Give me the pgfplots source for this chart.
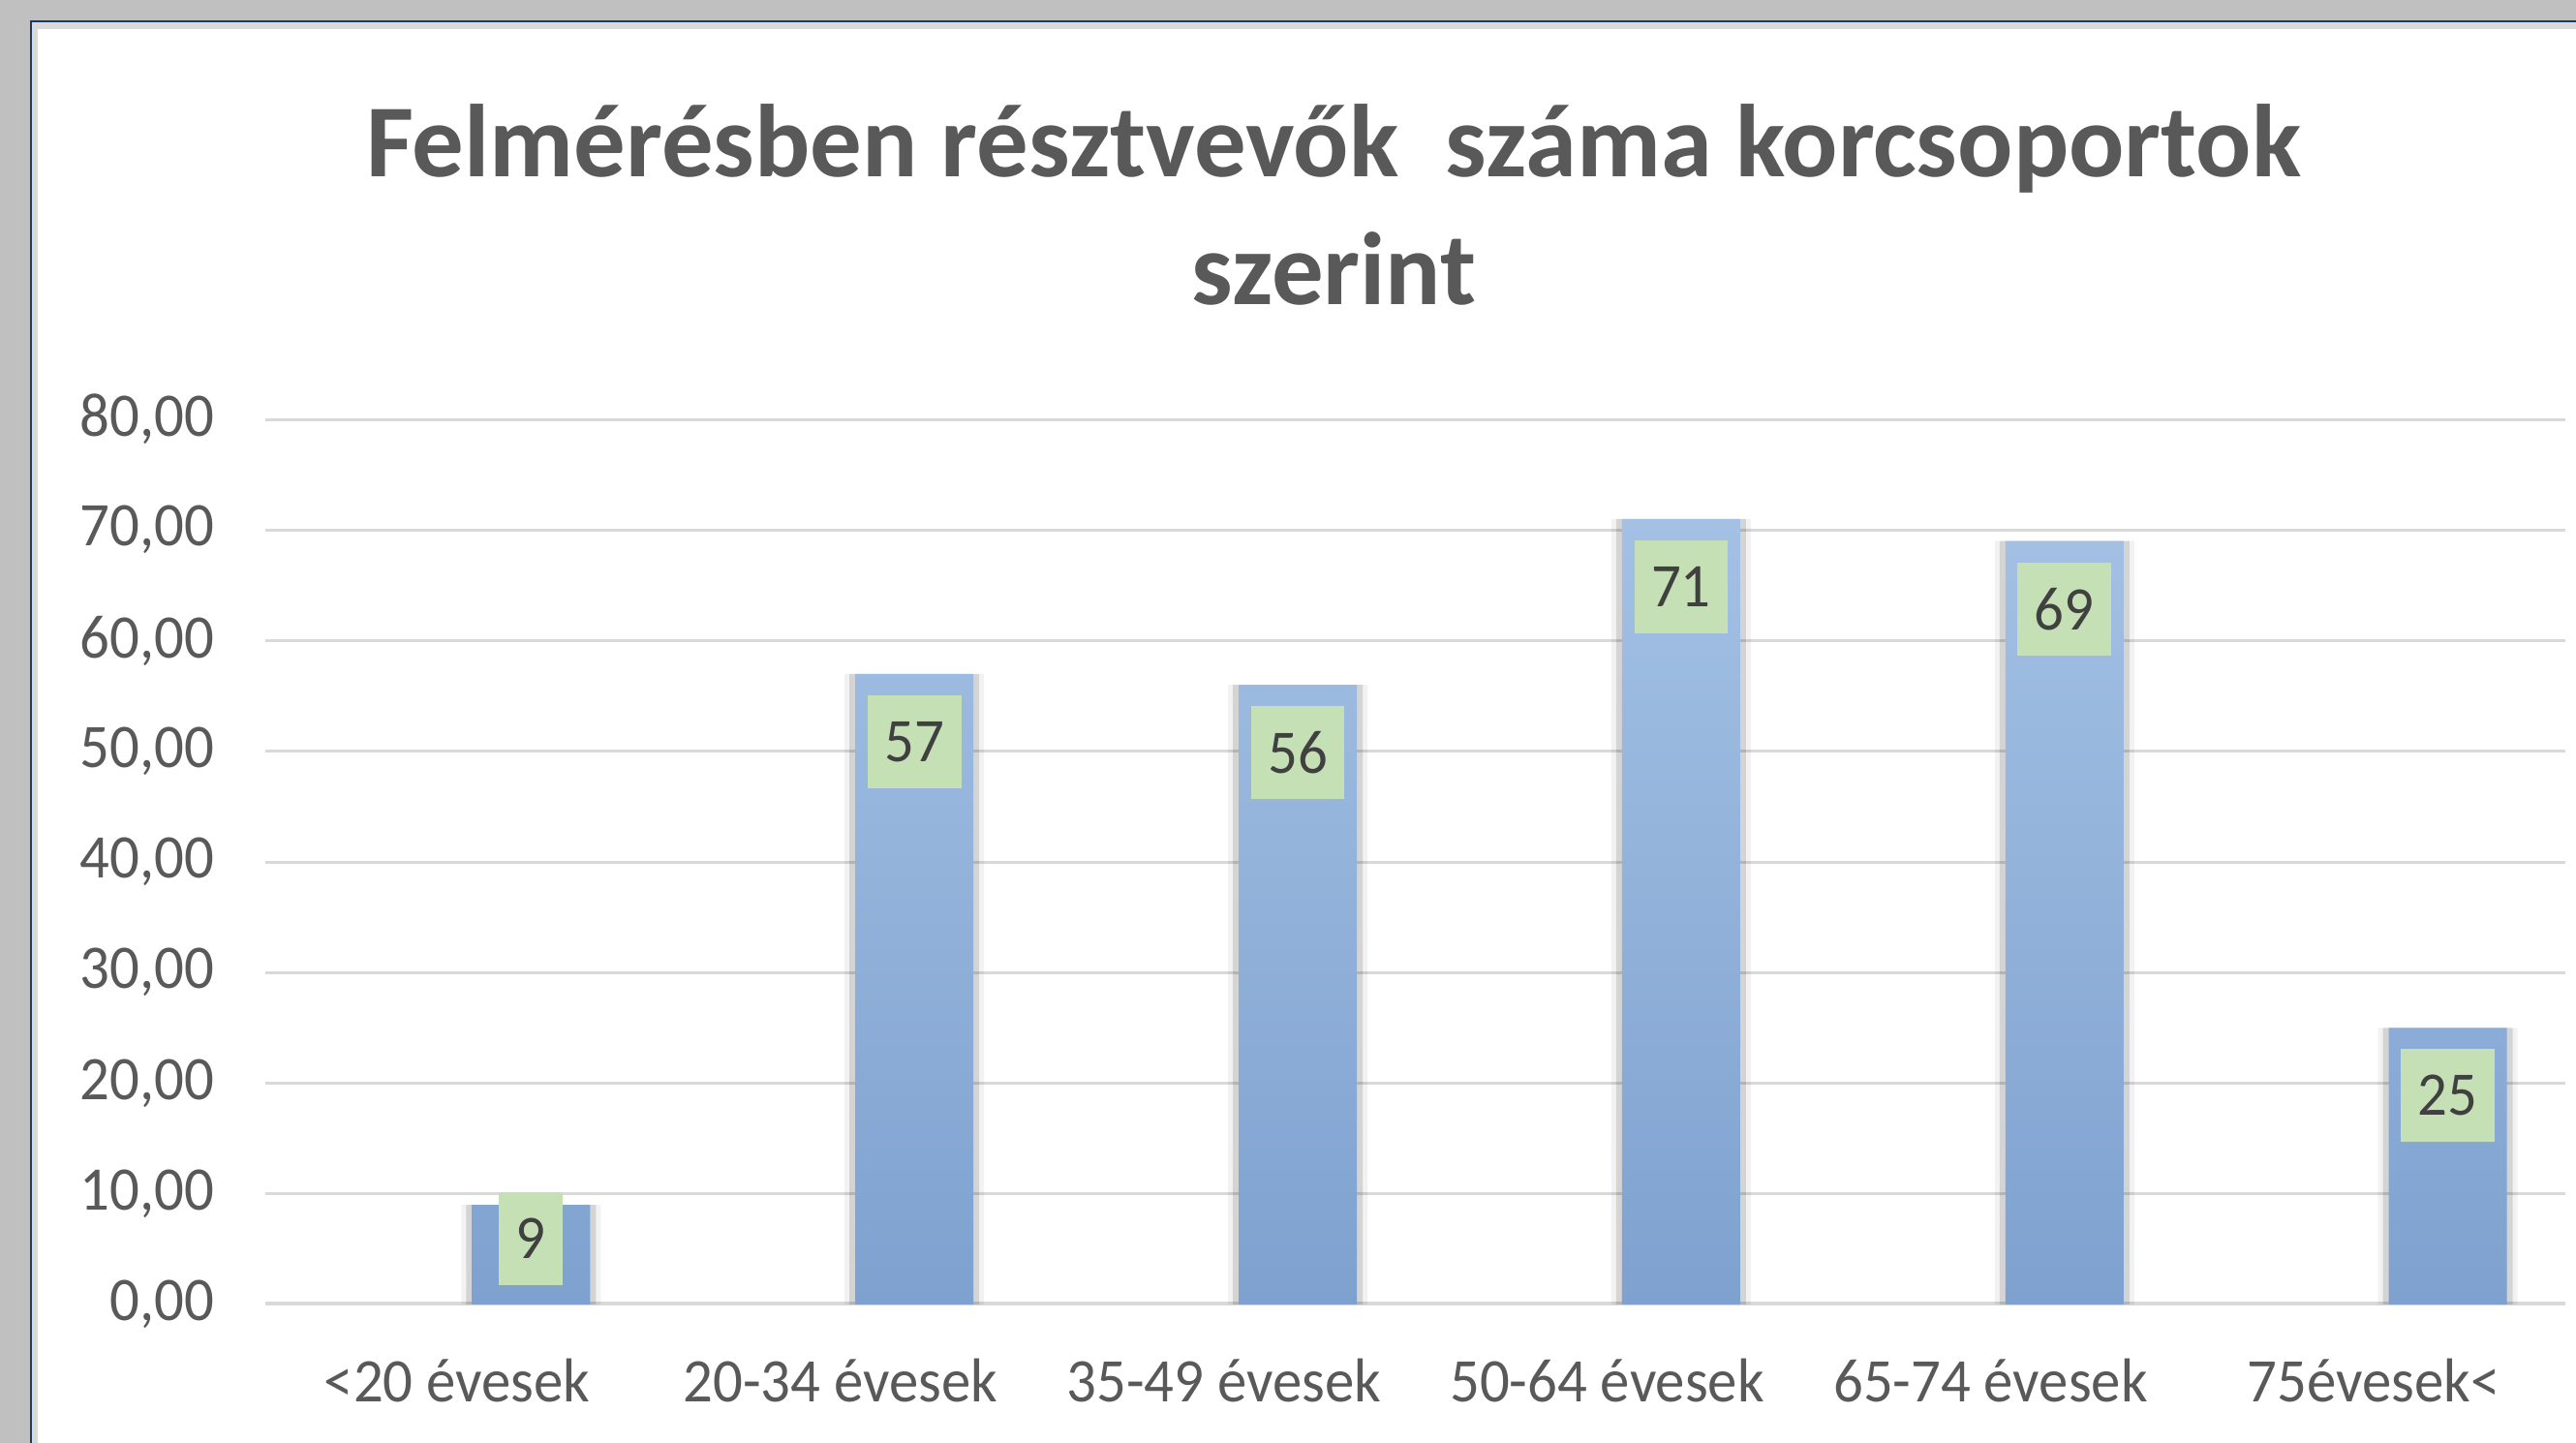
\documentclass[border=0pt]{standalone}
\usepackage{fontspec}
\setmainfont{Carlito}[FakeStretch=0.95]
\newfontfamily\titlefont{Carlito}
\usepackage{pgfplots}
\pgfplotsset{compat=1.18}
\definecolor{bgray}{RGB}{192,192,192}
\definecolor{framelight}{RGB}{217,217,217}
\definecolor{navy}{RGB}{31,56,100}
\definecolor{gridc}{RGB}{217,217,217}
\definecolor{txt}{RGB}{89,89,89}
\definecolor{lbl}{RGB}{64,64,64}
\definecolor{lgreen}{RGB}{197,224,180}
\definecolor{bartop}{RGB}{164,193,228}
\definecolor{barbot}{RGB}{126,161,207}
\pgfplotstableread{
x y off
0 9 -8.75
1 57 -17.5
2 56 -17.5
3 71 -17.5
4 69 -17.5
5 25 -17.5
}\datatab
\begin{document}
\begin{tikzpicture}
\useasboundingbox (0,0) rectangle (665pt,372.5pt);
\fill[bgray] (0,0) rectangle (665pt,372.5pt);
\fill[framelight] (7.75pt,0) rectangle (665pt,367.25pt);
\draw[navy, line width=0.5pt] (8pt,0) -- (8pt,367pt) -- (665pt,367pt);
\fill[white] (9.75pt,0) rectangle (665pt,365pt);
\begin{axis}[
  at={(68.5pt,35.75pt)}, anchor=south west,
  scale only axis, width=593.8pt, height=228.5pt,
  xmin=-0.5, xmax=5.5, ymin=0, ymax=80,
  ytick={0,10,...,80},
  xtick={0,1,2,3,4,5},
  xticklabels={<20 évesek, 20-34 évesek, 35-49 évesek, 50-64 évesek, 65-74 évesek, 75évesek<},
  axis line style={draw=none},
  major tick length=0pt,
  ymajorgrids,
  grid style={draw=gridc, line width=0.75pt},
  tick label style={font=\fontsize{16}{19}\selectfont, text=txt},
  yticklabel style={/pgf/number format/fixed, /pgf/number format/fixed zerofill,
     /pgf/number format/precision=2, /pgf/number format/use comma,
     /pgf/number format/assume math mode=true, inner sep=0pt, anchor=east, xshift=-13pt},
  xticklabel style={anchor=base, inner sep=0pt, yshift=-25pt},
  title={Felmérésben résztvevők\ \ száma korcsoportok\\szerint},
  title style={at={(axis description cs:0.4646,1.2158)}, anchor=center, align=center,
     font=\titlefont\fontsize{26.7}{33}\selectfont\bfseries, text=txt},
]
\draw[gridc, line width=1.5pt] (rel axis cs:0,0) -- (rel axis cs:1,0);
\addplot[ybar, bar shift=19.1pt, bar width=36pt, draw=none, fill=black, fill opacity=0.05, forget plot]
  table[x=x, y=y] {\datatab};
\addplot[ybar, bar shift=19.1pt, bar width=33.5pt, draw=none, fill=black, fill opacity=0.12, forget plot]
  table[x=x, y=y] {\datatab};
\addplot[ybar, bar shift=19.1pt, bar width=30.5pt, draw=none, top color=bartop, bottom color=barbot,
  nodes near coords,
  visualization depends on={\thisrow{off} \as \off},
  every node near coord/.append style={/pgf/number format/assume math mode=true,
     anchor=center, fill=lgreen, text=lbl, font=\fontsize{16}{19}\selectfont,
     inner xsep=4.4pt, inner ysep=0pt, minimum height=24pt,
     xshift=19.1pt, yshift=\off pt}]
  table[x=x, y=y] {\datatab};
\end{axis}
\end{tikzpicture}
\end{document}
